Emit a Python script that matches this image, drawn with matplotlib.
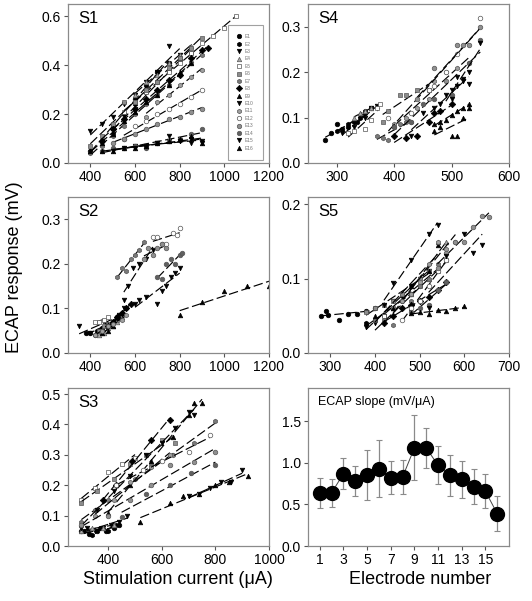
import numpy as np
import matplotlib.pyplot as plt
from matplotlib.ticker import FormatStrFormatter, MultipleLocator
from matplotlib.lines import Line2D

plt.rcParams['font.family'] = ['Liberation Sans', 'DejaVu Sans']

electrodes = ['E%d' % i for i in range(1, 17)]
marker_shapes = ['o', 'h', 'v', '^', 's', 's', 'h', 'D', '^', 'v', 'h', 'o', 'o', 'o', 'v', '^']
marker_faces = ['black', 'black', 'black', '#a8a8a8', 'white', '#8c8c8c', '#7a7a7a', 'black',
                'black', 'black', '#a0a0a0', 'white', '#909090', '#606060', 'black', 'black']

# S1: current (uA) and ECAP response (mV) per electrode
s1_current = [
    [400, 450, 500, 550, 600, 650, 700, 750],
    [500, 550, 600, 650, 700, 750, 800, 850],
    [400, 450, 500, 550, 600, 650, 700, 750, 800],
    [600, 650, 700, 750, 800, 850],
    [550, 600, 650, 700, 750, 800, 850, 900, 950, 1000, 1050],
    [400, 450, 500, 550, 600, 650, 700, 750, 800, 850, 900],
    [400, 450, 500, 550, 600, 650, 700, 750, 800, 850, 900],
    [450, 500, 550, 600, 650, 700, 750, 800, 850, 900, 925],
    [400, 450, 500, 550, 600, 650, 700, 750, 800, 850],
    [600, 650, 700, 750, 800, 850, 900],
    [650, 700, 750, 800, 850, 900],
    [550, 600, 650, 700, 750, 800, 850, 900],
    [500, 550, 600, 650, 700, 750, 800, 850, 900],
    [450, 500, 550, 600, 650, 700, 750, 800, 850, 900],
    [500, 550, 600, 650, 700, 750, 800, 850, 900],
    [450, 500, 550, 600, 650, 700, 750, 800, 850, 900],
]
s1_response = [
    [0.05, 0.09, 0.15, 0.20, 0.26, 0.32, 0.37, 0.41],
    [0.12, 0.18, 0.24, 0.29, 0.33, 0.38, 0.42, 0.45],
    [0.13, 0.16, 0.19, 0.24, 0.28, 0.33, 0.37, 0.48, 0.44],
    [0.28, 0.33, 0.36, 0.41, 0.44, 0.48],
    [0.21, 0.25, 0.29, 0.33, 0.37, 0.41, 0.45, 0.49, 0.52, 0.55, 0.60],
    [0.07, 0.11, 0.16, 0.25, 0.25, 0.30, 0.33, 0.39, 0.43, 0.47, 0.51],
    [0.04, 0.07, 0.11, 0.15, 0.20, 0.24, 0.28, 0.32, 0.36, 0.41, 0.44],
    [0.09, 0.14, 0.18, 0.22, 0.26, 0.30, 0.34, 0.36, 0.43, 0.46, 0.47],
    [0.05, 0.08, 0.12, 0.17, 0.21, 0.25, 0.28, 0.32, 0.37, 0.41],
    [0.07, 0.06, 0.08, 0.09, 0.09, 0.10, 0.08],
    [0.19, 0.25, 0.28, 0.32, 0.35, 0.38],
    [0.10, 0.15, 0.17, 0.20, 0.22, 0.24, 0.27, 0.30],
    [0.08, 0.10, 0.12, 0.14, 0.16, 0.18, 0.19, 0.21, 0.22],
    [0.05, 0.06, 0.06, 0.07, 0.06, 0.08, 0.09, 0.10, 0.12, 0.14],
    [0.05, 0.06, 0.06, 0.07, 0.08, 0.11, 0.09, 0.08, 0.09],
    [0.05, 0.05, 0.06, 0.06, 0.07, 0.08, 0.09, 0.10, 0.11, 0.08],
]

# S2
s2_current = [
    [380, 400, 430, 450, 480, 500, 520],
    [420, 450, 480, 500, 520, 540, 560],
    [350, 400, 440, 470, 500, 530, 550],
    [440, 460, 480, 500, 520, 540],
    [420, 440, 460, 480],
    [440, 460, 480, 500, 520],
    [520, 540, 560, 580, 600, 620, 640],
    [480, 500, 520, 540, 560, 580],
    [450, 480, 500, 520, 540],
    [550, 570, 590, 620, 650, 680],
    [420, 450, 480, 500, 540, 560],
    [680, 700, 720, 740, 770, 790, 800],
    [640, 660, 680, 700, 720, 740],
    [700, 720, 740, 760, 780, 800, 810],
    [600, 620, 650, 700, 720, 740, 760, 780, 800],
    [800, 900, 1000, 1100, 1200],
]
s2_response = [
    [0.045, 0.045, 0.05, 0.055, 0.06, 0.07, 0.08],
    [0.04, 0.05, 0.06, 0.07, 0.08, 0.09, 0.10],
    [0.06, 0.045, 0.05, 0.065, 0.07, 0.085, 0.10],
    [0.04, 0.045, 0.055, 0.06, 0.07, 0.08],
    [0.07, 0.07, 0.075, 0.08],
    [0.05, 0.06, 0.065, 0.07, 0.075],
    [0.17, 0.19, 0.185, 0.21, 0.22, 0.23, 0.25],
    [0.06, 0.07, 0.08, 0.09, 0.10, 0.11],
    [0.045, 0.05, 0.06, 0.08, 0.09],
    [0.12, 0.15, 0.19, 0.20, 0.21, 0.23],
    [0.04, 0.05, 0.06, 0.065, 0.075, 0.085],
    [0.26, 0.26, 0.245, 0.245, 0.27, 0.265, 0.28],
    [0.21, 0.235, 0.22, 0.235, 0.245, 0.235],
    [0.17, 0.165, 0.20, 0.21, 0.20, 0.22, 0.225],
    [0.11, 0.12, 0.125, 0.11, 0.14, 0.15, 0.17, 0.18, 0.19],
    [0.085, 0.115, 0.14, 0.15, 0.15],
]

# S3
s3_current = [
    [300, 330, 360, 390, 420, 440],
    [310, 340, 370, 400, 430],
    [320, 350, 380, 410, 440, 470],
    [300, 340, 380, 420],
    [300, 350, 400, 450, 500],
    [300, 360, 420, 480, 540, 600, 650],
    [300, 350, 400, 500, 560, 640, 720, 800],
    [380, 430, 490, 560, 630],
    [400, 480, 560, 640, 700, 720, 750],
    [300, 360, 420, 480, 540, 600, 650, 700, 720],
    [350, 420, 480, 560, 630],
    [430, 530, 600, 700, 780],
    [300, 400, 480, 560, 630, 720, 800],
    [450, 540, 630, 710, 800],
    [700, 740, 780, 820, 860, 900],
    [520, 630, 680, 740, 800, 850, 920],
]
s3_response = [
    [0.05, 0.04, 0.05, 0.05, 0.06, 0.07],
    [0.05, 0.035, 0.06, 0.05, 0.07],
    [0.06, 0.05, 0.06, 0.07, 0.08, 0.10],
    [0.05, 0.06, 0.06, 0.07],
    [0.15, 0.19, 0.245, 0.27, 0.29],
    [0.14, 0.18, 0.22, 0.27, 0.30, 0.35, 0.34],
    [0.08, 0.12, 0.15, 0.22, 0.265, 0.30, 0.34, 0.41],
    [0.15, 0.20, 0.28, 0.35, 0.415],
    [0.11, 0.20, 0.28, 0.36, 0.43, 0.47, 0.47],
    [0.06, 0.12, 0.18, 0.23, 0.30, 0.34, 0.39, 0.44, 0.43],
    [0.10, 0.15, 0.21, 0.26, 0.30],
    [0.20, 0.25, 0.28, 0.31, 0.365],
    [0.07, 0.10, 0.15, 0.20, 0.265, 0.275, 0.31],
    [0.095, 0.17, 0.20, 0.24, 0.265],
    [0.165, 0.17, 0.19, 0.21, 0.21, 0.25],
    [0.08, 0.14, 0.165, 0.17, 0.20, 0.21, 0.23],
]

# S4
s4_current = [
    [280, 290, 300, 310, 320, 335, 350],
    [300, 320, 330, 340, 350, 360],
    [310, 330, 350, 360, 370],
    [330, 340, 350, 360],
    [320, 330, 350, 360, 370, 375],
    [380, 390, 410, 420, 440, 460],
    [370, 380, 390, 400, 410, 420, 430],
    [400, 420, 440, 460, 470, 480, 500],
    [470, 480, 490, 500, 510, 520, 530],
    [430, 450, 470, 480, 500, 510, 520, 530],
    [400, 420, 440, 460, 470, 490, 510, 530],
    [390, 430, 460, 470, 490, 510, 550],
    [440, 470, 490, 510, 520, 530, 550],
    [400, 430, 450, 470, 500, 530, 550],
    [490, 500, 510, 520, 530, 550],
    [470, 480, 500, 510, 520, 530],
]
s4_response = [
    [0.05, 0.065, 0.085, 0.075, 0.08, 0.09, 0.11],
    [0.07, 0.085, 0.09, 0.10, 0.115, 0.12],
    [0.065, 0.08, 0.10, 0.12, 0.125],
    [0.10, 0.11, 0.115, 0.12],
    [0.065, 0.07, 0.075, 0.095, 0.12, 0.13],
    [0.09, 0.115, 0.15, 0.15, 0.16, 0.16],
    [0.06, 0.055, 0.05, 0.08, 0.085, 0.09, 0.09],
    [0.06, 0.055, 0.06, 0.09, 0.11, 0.115, 0.13],
    [0.085, 0.09, 0.095, 0.105, 0.115, 0.12, 0.13],
    [0.06, 0.11, 0.12, 0.13, 0.16, 0.17, 0.185, 0.175],
    [0.085, 0.10, 0.12, 0.14, 0.18, 0.20, 0.21, 0.22],
    [0.10, 0.11, 0.16, 0.17, 0.20, 0.24, 0.32],
    [0.14, 0.21, 0.18, 0.26, 0.26, 0.26, 0.30],
    [0.08, 0.09, 0.13, 0.14, 0.15, 0.22, 0.27],
    [0.15, 0.14, 0.19, 0.18, 0.20, 0.265],
    [0.07, 0.08, 0.06, 0.06, 0.10, 0.12],
]

# S5
s5_current = [
    [280, 290, 295, 320, 340, 360, 380, 400],
    [380, 400, 420, 440, 460, 480, 500],
    [380, 400, 420, 440, 460, 480, 500, 520],
    [440, 480, 520, 540, 560],
    [420, 440, 460, 500, 540, 560],
    [380, 400, 420, 440, 460, 500, 520],
    [400, 420, 440, 460, 480, 500, 520, 540],
    [420, 440, 460, 480, 500, 520, 540, 560],
    [400, 440, 480, 520, 540],
    [420, 440, 480, 520, 540],
    [460, 480, 500, 520, 540, 560, 580],
    [460, 480, 500, 520, 540, 560],
    [540, 560, 580, 600, 620, 640, 655],
    [480, 500, 520, 540, 560],
    [520, 560, 600, 620, 640],
    [480, 500, 520, 540, 560, 580, 600],
]
s5_response = [
    [0.05, 0.057, 0.051, 0.045, 0.053, 0.053, 0.057, 0.06],
    [0.04, 0.045, 0.05, 0.06, 0.07, 0.08, 0.09],
    [0.035, 0.04, 0.05, 0.07, 0.075, 0.09, 0.10, 0.11],
    [0.06, 0.08, 0.10, 0.15, 0.15],
    [0.05, 0.06, 0.08, 0.09, 0.11, 0.125],
    [0.055, 0.06, 0.065, 0.07, 0.08, 0.10, 0.11],
    [0.045, 0.045, 0.038, 0.06, 0.07, 0.09, 0.10, 0.12],
    [0.04, 0.05, 0.06, 0.065, 0.07, 0.075, 0.085, 0.095],
    [0.05, 0.06, 0.09, 0.11, 0.145],
    [0.065, 0.094, 0.125, 0.16, 0.172],
    [0.07, 0.08, 0.095, 0.12, 0.15, 0.14, 0.15],
    [0.045, 0.06, 0.07, 0.09, 0.11, 0.125],
    [0.115, 0.135, 0.15, 0.15, 0.17, 0.185, 0.183],
    [0.055, 0.06, 0.065, 0.085, 0.095],
    [0.06, 0.13, 0.16, 0.135, 0.145],
    [0.054, 0.055, 0.052, 0.058, 0.057, 0.06, 0.063],
]

# mean ECAP slope per electrode with SD
electrode_number = list(range(1, 17))
slope_mean = [0.64, 0.64, 0.87, 0.78, 0.85, 0.93, 0.82, 0.83, 1.18, 1.18, 0.97, 0.85, 0.80, 0.71, 0.66, 0.39]
slope_sd = [0.18, 0.17, 0.19, 0.18, 0.30, 0.34, 0.20, 0.20, 0.39, 0.24, 0.23, 0.25, 0.22, 0.21, 0.20, 0.21]


def style_axes(ax):
    for sp in ax.spines.values():
        sp.set_color('#8a8a8a')
        sp.set_linewidth(0.9)
    ax.tick_params(direction='out', length=3, width=0.8, color='#555555', labelsize=10, pad=2)


def scatter_panel(ax, current, response, name, xlim, xticks, ylim, ystep):
    for i in range(16):
        x = np.array(current[i], dtype=float)
        y = np.array(response[i], dtype=float)
        a, b = np.polyfit(x, y, 1)
        xs = np.array([x.min(), x.max()])
        ax.plot(xs, a * xs + b, color='black', lw=0.85, dashes=(8, 3))
        edge = '#555555' if marker_faces[i] != 'black' else 'black'
        ax.plot(x, y, ls='none', marker=marker_shapes[i], ms=3.3,
                mfc=marker_faces[i], mec=edge, mew=0.5)
    ax.set_xlim(*xlim)
    ax.set_xticks(xticks)
    ax.set_ylim(*ylim)
    ax.yaxis.set_major_locator(MultipleLocator(ystep))
    ax.yaxis.set_major_formatter(FormatStrFormatter('%.1f'))
    ax.text(0.05, 0.955, name, transform=ax.transAxes, ha='left', va='top', fontsize=12)
    style_axes(ax)


fig = plt.figure(figsize=(5.32, 6.01), dpi=100)
W, H = 532, 601


def add_ax(left, top, right, bottom):
    return fig.add_axes([left / W, 1 - bottom / H, (right - left) / W, (bottom - top) / H])


ax1 = add_ax(68, 4, 269, 163)
ax4 = add_ax(308, 4, 509, 163)
ax2 = add_ax(68, 197, 269, 353)
ax5 = add_ax(308, 197, 509, 353)
ax3 = add_ax(68, 388, 269, 546)
ax6 = add_ax(308, 388, 509, 546)

scatter_panel(ax1, s1_current, s1_response, 'S1', (300, 1200), [400, 600, 800, 1000, 1200], (0, 0.65), 0.2)
scatter_panel(ax2, s2_current, s2_response, 'S2', (300, 1200), [400, 600, 800, 1000, 1200], (0, 0.35), 0.1)
scatter_panel(ax3, s3_current, s3_response, 'S3', (250, 1000), [400, 600, 800, 1000], (0, 0.52), 0.1)
scatter_panel(ax4, s4_current, s4_response, 'S4', (250, 600), [300, 400, 500, 600], (0, 0.35), 0.1)
scatter_panel(ax5, s5_current, s5_response, 'S5', (250, 700), [300, 400, 500, 600, 700], (0, 0.21), 0.1)

# legend of electrodes in S1
handles = []
for i in range(16):
    edge = '#555555' if marker_faces[i] != 'black' else 'black'
    handles.append(Line2D([], [], ls='none', marker=marker_shapes[i], ms=3.2,
                          mfc=marker_faces[i], mec=edge, mew=0.5))
leg = ax1.legend(handles, electrodes, loc='lower left', bbox_to_anchor=(0.795, 0.02),
                 fontsize=3.5, labelspacing=0.5, handlelength=0.8, handletextpad=0.8,
                 borderpad=1.9, borderaxespad=0, frameon=True, fancybox=False)
leg.get_frame().set_edgecolor('#8a8a8a')
leg.get_frame().set_linewidth(0.8)
for t in leg.get_texts():
    t.set_color('#777777')

# slope panel
ax6.plot(electrode_number, slope_mean, color='#444444', lw=0.7, zorder=1)
ax6.errorbar(electrode_number, slope_mean, yerr=slope_sd, fmt='none', ecolor='#8a8a8a',
             elinewidth=0.9, capsize=2, capthick=0.8, zorder=2)
ax6.plot(electrode_number, slope_mean, ls='none', marker='o', ms=10, color='black', zorder=3)
ax6.set_xlim(0, 17)
ax6.set_xticks([1, 3, 5, 7, 9, 11, 13, 15])
ax6.set_ylim(0, 1.9)
ax6.yaxis.set_major_locator(MultipleLocator(0.5))
ax6.yaxis.set_major_formatter(FormatStrFormatter('%.1f'))
ax6.text(0.05, 0.95, 'ECAP slope (mV/\u03bcA)', transform=ax6.transAxes, ha='left', va='top', fontsize=9)
style_axes(ax6)

fig.text(0.028, 0.555, 'ECAP response (mV)', rotation=90, ha='center', va='center', fontsize=13)
fig.text(0.335, 0.035, 'Stimulation current (\u03bcA)', ha='center', va='center', fontsize=13)
fig.text(0.79, 0.035, 'Electrode number', ha='center', va='center', fontsize=13)

fig.savefig('out.png', dpi=100)
